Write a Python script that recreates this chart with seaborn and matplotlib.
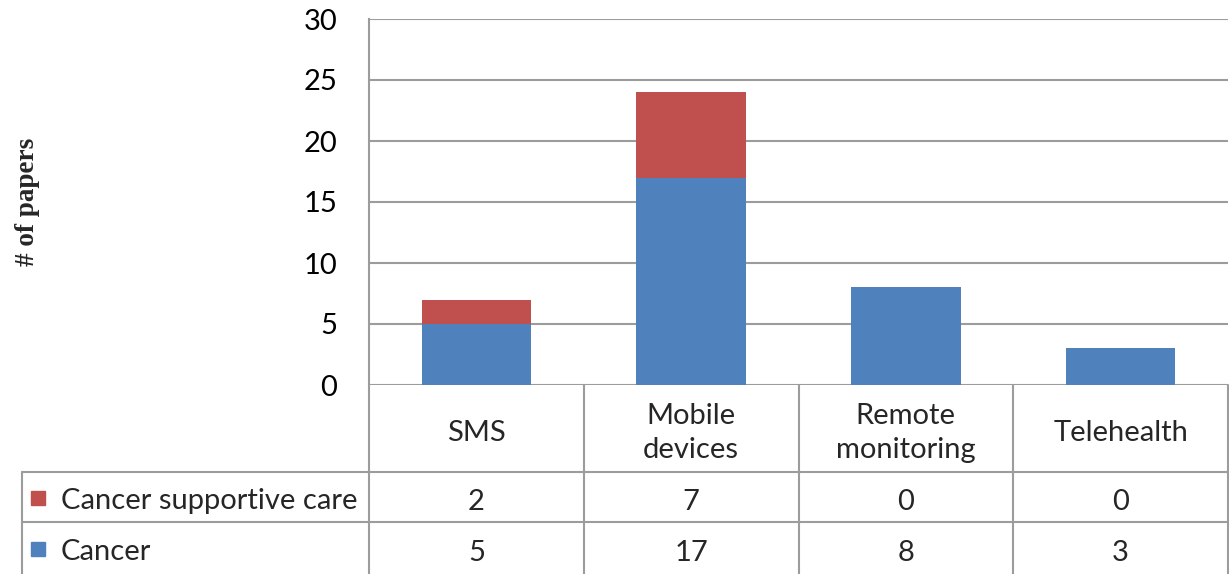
import numpy as np
import matplotlib
matplotlib.use("Agg")
import matplotlib.pyplot as plt
import matplotlib.transforms as mtransforms
from matplotlib.patches import Rectangle
import seaborn as sns

# data
categories = ["SMS", "Mobile\ndevices", "Remote\nmonitoring", "Telehealth"]
cancer = [5, 17, 8, 3]
supportive = [2, 7, 0, 0]
series_names = ["Cancer supportive care", "Cancer"]
y_ticks = [0, 5, 10, 15, 20, 25, 30]

red = "#C0504D"
blue = "#4F81BD"
grid_gray = "#9c9c9c"

sns.set_theme(style="white")
plt.rcParams["font.family"] = ["Lato", "DejaVu Sans"]

W, H = 1229, 574
fig = plt.figure(figsize=(W / 100, H / 100), dpi=100)


def fy(py):
    # pixel row (from top) -> figure fraction
    return 1 - py / H


ax = fig.add_axes([369 / W, fy(385), (1228 - 369) / W, (385 - 19) / H])

total = [c + s for c, s in zip(cancer, supportive)]
sns.barplot(x=categories, y=total, color=red, width=0.51, saturation=1,
            ax=ax, linewidth=0)
sns.barplot(x=categories, y=cancer, color=blue, width=0.51, saturation=1,
            ax=ax, linewidth=0)

ax.set_xlim(-0.5, 3.5)
ax.set_ylim(0, 30)
ax.set_yticks(y_ticks)
ax.set_xticks([])
ax.set_xlabel("")
ax.set_ylabel("")
ax.tick_params(axis="y", length=0, pad=23, labelsize=21, colors="black")
for yv in y_ticks:
    ax.axhline(yv, color=grid_gray, lw=1.5, zorder=0)
for side in ["top", "right", "bottom"]:
    ax.spines[side].set_visible(False)
ax.spines["left"].set_color(grid_gray)
ax.spines["left"].set_linewidth(1.5)

fig.text(27 / W, fy(202), "# of papers", rotation=90, ha="center", va="center",
         family="Liberation Serif", fontweight="bold", fontsize=19.5)

# data table under the chart
tr = mtransforms.blended_transform_factory(ax.transData, fig.transFigure)
x_left = -0.5 - (369 - 22) / ((1228 - 369) / 4)
line_kw = dict(color=grid_gray, lw=1.5, transform=tr, clip_on=False)

for xb in np.arange(-0.5, 4.0, 1.0):
    ax.plot([xb, xb], [fy(385), 0], **line_kw)
ax.plot([x_left, 3.5], [fy(472), fy(472)], **line_kw)
ax.plot([x_left, 3.5], [fy(522), fy(522)], **line_kw)
ax.plot([x_left, x_left], [fy(472), 0], **line_kw)

for i, cat in enumerate(categories):
    ax.text(i, fy(433), cat, ha="center", va="center", fontsize=21,
            transform=tr, linespacing=1.4)
    ax.text(i, fy(502), str(supportive[i]), ha="center", va="center",
            fontsize=21, transform=tr)
    ax.text(i, fy(553), str(cancer[i]), ha="center", va="center",
            fontsize=21, transform=tr)

for name, col, py in [(series_names[0], red, 498), (series_names[1], blue, 549)]:
    fig.patches.append(Rectangle((31 / W, fy(py + 7)), 14 / W, 14 / H,
                                 color=col, transform=fig.transFigure))
    fig.text(61 / W, fy(py + 3), name, ha="left", va="center", fontsize=21)

fig.savefig("out.png", dpi=100)
